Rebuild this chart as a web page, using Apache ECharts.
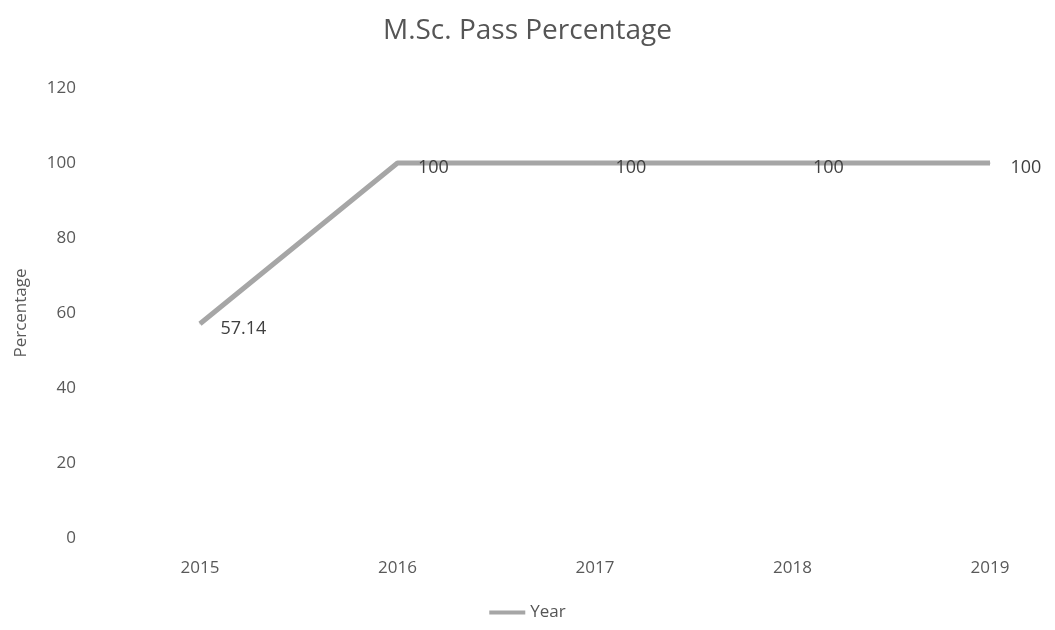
<!DOCTYPE html>
<html lang="en">
<head>
    <meta charset="UTF-8">
    <title>M.Sc. Pass Percentage</title>
    <script src="https://cdn.jsdelivr.net/npm/echarts@6/dist/echarts.min.js"></script>
</head>
<body style="margin:0;background:#fff">
    <div id="chart" style="width:1055px;height:630px"></div>
    <script>
        // data
        var years = ['2015', '2016', '2017', '2018', '2019']
        var passPct = [57.14, 100, 100, 100, 100]
        var yTicks = [0, 20, 40, 60, 80, 100, 120]

        var myChart = echarts.init(document.getElementById('chart'))
        var font = 'Open Sans'
        var option = {
            backgroundColor: '#fff',
            title: {
                text: 'M.Sc. Pass Percentage',
                left: 'center',
                top: 12,
                textStyle: { fontFamily: font, fontSize: 28, fontWeight: 'normal', color: '#555' }
            },
            legend: {
                bottom: 4,
                left: 'center',
                data: ['Year'],
                itemWidth: 36,
                itemHeight: 4,
                icon: 'rect',
                textStyle: { fontFamily: font, fontSize: 17, color: '#555' }
            },
            grid: { left: 200, right: 65, top: 88, bottom: 92 },
            xAxis: {
                type: 'category',
                data: years,
                boundaryGap: false,
                axisLine: { show: false },
                axisTick: { show: false },
                axisLabel: { fontFamily: font, fontSize: 17, color: '#595959', margin: 22 }
            },
            yAxis: {
                type: 'value',
                min: yTicks[0],
                max: yTicks[yTicks.length - 1],
                interval: 20,
                name: 'Percentage',
                nameLocation: 'middle',
                nameGap: 170,
                nameTextStyle: { fontFamily: font, fontSize: 17, color: '#595959' },
                splitLine: { show: false },
                axisLine: { show: false },
                axisTick: { show: false },
                axisLabel: { fontFamily: font, fontSize: 17, color: '#595959', margin: 124 }
            },
            series: [{
                name: 'Year',
                type: 'line',
                data: passPct,
                symbol: 'circle',
                symbolSize: 1,
                showSymbol: true,
                itemStyle: { color: '#a6a6a6' },
                lineStyle: { color: '#a6a6a6', width: 5 },
                label: {
                    show: true,
                    position: 'right',
                    distance: 20,
                    offset: [0, 5],
                    fontFamily: font,
                    fontSize: 18,
                    color: '#404040'
                }
            }]
        }
        myChart.setOption(option)
    </script>
</body>
</html>
